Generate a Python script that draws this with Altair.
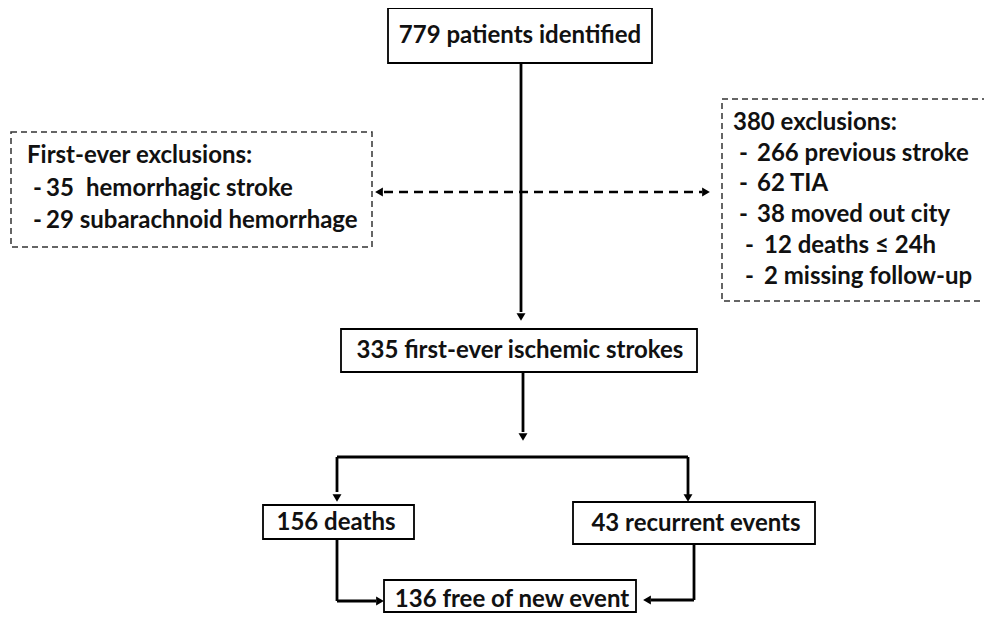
import altair as alt
import pandas as pd

# ---- flowchart content ----
box_x1 = [388, 341, 263, 573, 384]
box_y1 = [8, 329, 505, 502, 580]
box_x2 = [652, 697, 414, 815, 636]
box_y2 = [63, 372, 539, 544, 612]

dbox_x1 = [11, 722]
dbox_y1 = [132, 99]
dbox_x2 = [372, 990]
dbox_y2 = [247, 301]

center_texts = ["779 patients identified", "335 first-ever ischemic strokes",
                "156 deaths", "43 recurrent events", "136 free of new event"]
center_x = [520, 520, 336, 696, 512]
center_y = [36, 351, 523, 524, 600]

left_texts = ["First-ever exclusions:", "-", "35", "hemorrhagic stroke", "-", "29 subarachnoid hemorrhage",
              "380 exclusions:", "-", "266 previous stroke", "-", "62 TIA", "-", "38 moved out city",
              "-", "12 deaths \u2264 24h", "-", "2 missing follow-up"]
left_x = [27, 33, 46, 86, 33, 46,
          733, 739, 757, 739, 757, 739, 757, 745, 764, 745, 764]
left_y = [156, 189, 189, 189, 221, 221,
          123, 154, 154, 184, 184, 215, 215, 246, 246, 277, 277]

seg_x1 = [521, 523, 337, 337, 688, 337, 337, 694, 694]
seg_y1 = [63, 372, 457, 457, 457, 539, 601, 544, 600]
seg_x2 = [521, 523, 688, 337, 688, 337, 376, 694, 651]
seg_y2 = [312, 432, 457, 492, 495, 601, 601, 600, 600]

dseg_x1 = [384]
dseg_y1 = [192]
dseg_x2 = [702]
dseg_y2 = [192]

arrow_x = [521, 523, 337, 688, 380, 647, 379, 706]
arrow_y = [317, 437, 498, 498, 601, 600, 192, 192]
arrow_shape = ["triangle-down", "triangle-down", "triangle-down", "triangle-down",
               "triangle-right", "triangle-left", "triangle-left", "triangle-right"]

FONT = "Lato"
xs = alt.Scale(domain=[8, 984], nice=False, zero=False)
ys = alt.Scale(domain=[8, 613], nice=False, zero=False, reverse=True)

def X(f):
    return alt.X(f, type="quantitative", scale=xs, axis=None)

def Y(f):
    return alt.Y(f, type="quantitative", scale=ys, axis=None)

boxes = pd.DataFrame(dict(x1=box_x1, y1=box_y1, x2=box_x2, y2=box_y2))
dboxes = pd.DataFrame(dict(x1=dbox_x1, y1=dbox_y1, x2=dbox_x2, y2=dbox_y2))
segs = pd.DataFrame(dict(x1=seg_x1, y1=seg_y1, x2=seg_x2, y2=seg_y2))
dsegs = pd.DataFrame(dict(x1=dseg_x1, y1=dseg_y1, x2=dseg_x2, y2=dseg_y2))
arrows = pd.DataFrame(dict(x=arrow_x, y=arrow_y, shape=arrow_shape))
ctext = pd.DataFrame(dict(x=center_x, y=center_y, t=center_texts))
ltext = pd.DataFrame(dict(x=left_x, y=left_y, t=left_texts))

rule_layer = alt.Chart(segs).mark_rule(color="black", strokeWidth=2.8).encode(
    x=X("x1"), y=Y("y1"), x2="x2", y2="y2")
drule_layer = alt.Chart(dsegs).mark_rule(color="black", strokeWidth=2.5, strokeDash=[9, 6]).encode(
    x=X("x1"), y=Y("y1"), x2="x2", y2="y2")
box_layer = alt.Chart(boxes).mark_rect(fill="white", stroke="black", strokeWidth=1.8).encode(
    x=X("x1"), y=Y("y1"), x2="x2", y2="y2")
dbox_layer = alt.Chart(dboxes).mark_rect(fill="white", stroke="#333333", strokeWidth=1.5,
                                         strokeDash=[6, 4]).encode(
    x=X("x1"), y=Y("y1"), x2="x2", y2="y2")
arrow_layer = alt.Chart(arrows).mark_point(filled=True, color="black", size=80, opacity=1).encode(
    x=X("x"), y=Y("y"),
    shape=alt.Shape("shape:N", scale=None, legend=None))
ctext_layer = alt.Chart(ctext).mark_text(font=FONT, fontWeight="bold", fontSize=24,
                                         align="center", baseline="middle", color="#111111").encode(
    x=X("x"), y=Y("y"), text="t:N")
ltext_layer = alt.Chart(ltext).mark_text(font=FONT, fontWeight="bold", fontSize=24,
                                         align="left", baseline="middle", color="#111111").encode(
    x=X("x"), y=Y("y"), text="t:N")

chart = alt.layer(dbox_layer, drule_layer, rule_layer, box_layer, arrow_layer,
                  ctext_layer, ltext_layer).properties(
    width=976, height=605, padding=0,
    autosize=alt.AutoSizeParams(type="none"),
    background="white",
).configure_view(stroke=None)

chart.save("out.html", embed_options={"renderer": "svg", "actions": False})
